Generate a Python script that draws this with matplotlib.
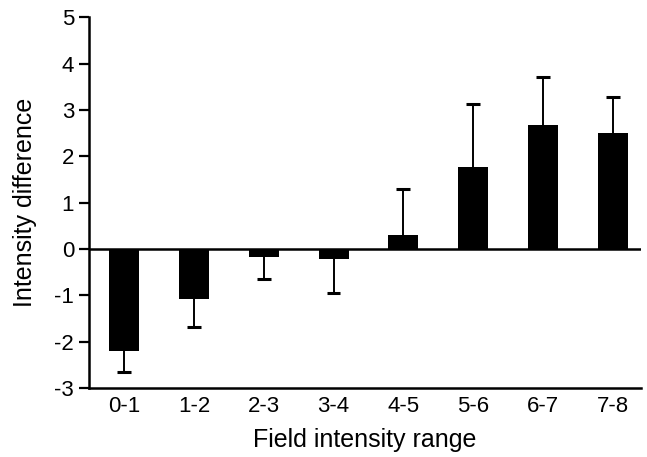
import matplotlib
matplotlib.use("Agg")
import matplotlib.pyplot as plt
import numpy as np

categories = ["0-1", "1-2", "2-3", "3-4", "4-5", "5-6", "6-7", "7-8"]
values = [-2.20, -1.08, -0.18, -0.22, 0.30, 1.78, 2.68, 2.51]
errors = [0.46, 0.60, 0.47, 0.74, 1.00, 1.36, 1.03, 0.77]
yticks = [-3, -2, -1, 0, 1, 2, 3, 4, 5]

plt.rcParams['font.family'] = ['Liberation Sans', 'DejaVu Sans']

fig = plt.figure(figsize=(6.47, 4.57), dpi=100)
ax = fig.add_axes([0.138, 0.151, 0.852, 0.811])

x = np.arange(len(categories))
vals = np.array(values)
errs = np.array(errors)
ends = vals + np.sign(vals) * errs

ax.axhline(0, color='black', lw=1.8, zorder=1)
ax.bar(x, vals, width=0.43, color='black', zorder=2)
ax.vlines(x, vals, ends, color='black', lw=1.4, zorder=3)
ax.hlines(ends, x - 0.1, x + 0.1, color='black', lw=2.2, zorder=3)

ax.set_xlim(-0.5, 7.4)
ax.set_ylim(-3, 5)
ax.set_yticks(yticks)
ax.set_yticklabels([str(t) for t in yticks], fontsize=16)
ax.set_xticks(x)
ax.set_xticklabels(categories, fontsize=16)
ax.tick_params(axis='x', length=0, pad=6)
ax.tick_params(axis='y', length=7, width=1.6, direction='out', pad=4)

for s in ['top', 'right']:
    ax.spines[s].set_visible(False)
for s in ['left', 'bottom']:
    ax.spines[s].set_linewidth(1.8)

ax.set_ylabel("Intensity difference", fontsize=18, labelpad=12)
ax.set_xlabel("Field intensity range", fontsize=18, labelpad=8)

fig.savefig("out.png", dpi=100)
